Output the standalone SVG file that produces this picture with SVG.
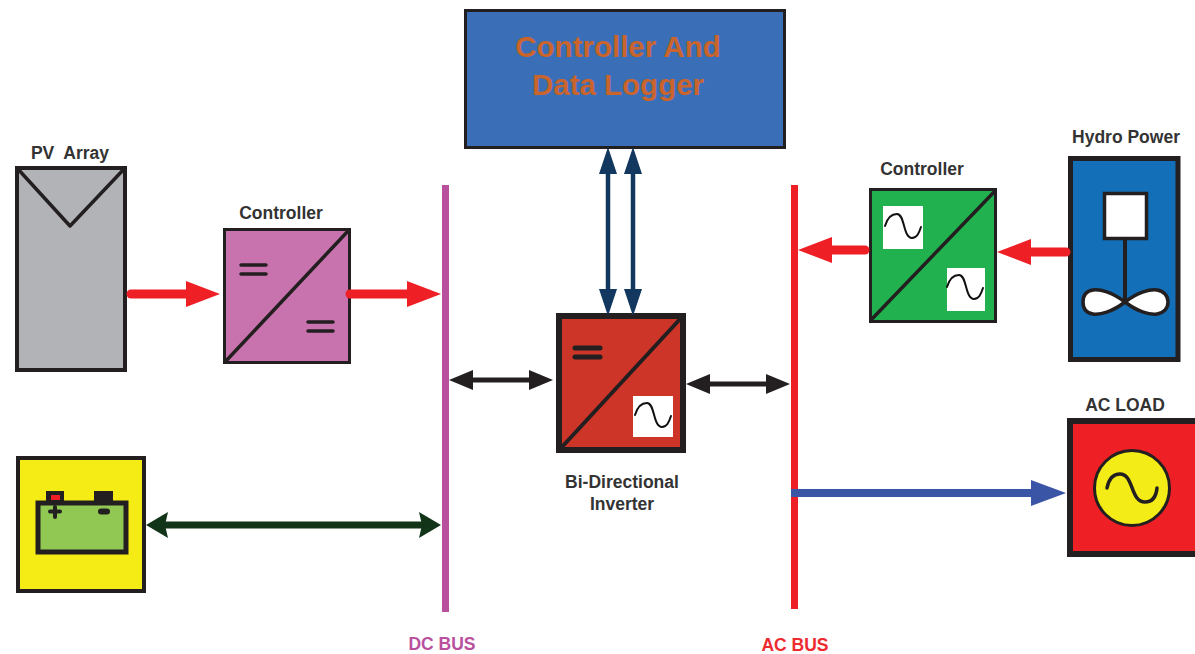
<svg xmlns="http://www.w3.org/2000/svg" width="1195" height="654" viewBox="0 0 1195 654">
<style>
text{font-family:"Liberation Sans",Arial,sans-serif;font-weight:700;text-anchor:middle;fill:#333;font-size:17.5px}
.box{stroke:#231f20;stroke-linejoin:miter}
.ln{fill:none;stroke:#231f20;stroke-linecap:round;stroke-linejoin:round}
.wave{fill:none;stroke:#111;stroke-width:2;stroke-linecap:round}
.wh{fill:#fff}
.big{font-size:29.5px;fill:#c8642c}
.red{stroke:#ee1f25;stroke-width:9;stroke-linecap:round}
.navy{stroke:#12385f;stroke-width:4.5}
.blk{stroke:#231f20;stroke-width:5}
</style>
<defs>
<marker id="r" markerUnits="userSpaceOnUse" markerWidth="35" markerHeight="26" refX="0" refY="13" orient="auto-start-reverse"><path d="M0 0L34 13L0 26Z" fill="#ee1f25"/></marker>
<marker id="n" markerUnits="userSpaceOnUse" markerWidth="28" markerHeight="18" refX="0" refY="9" orient="auto-start-reverse"><path d="M0 0L27 9L0 18Z" fill="#12385f"/></marker>
<marker id="k" markerUnits="userSpaceOnUse" markerWidth="25" markerHeight="20" refX="0" refY="10" orient="auto-start-reverse"><path d="M0 0L24 10L0 20Z" fill="#231f20"/></marker>
<marker id="g" markerUnits="userSpaceOnUse" markerWidth="23" markerHeight="26" refX="3" refY="13" orient="auto-start-reverse"><path d="M0 0L22 13L0 26L3 13Z" fill="#12351a"/></marker>
<marker id="b" markerUnits="userSpaceOnUse" markerWidth="36" markerHeight="26" refX="0" refY="13" orient="auto-start-reverse"><path d="M0 0L35 13L0 26Z" fill="#3a55a5"/></marker>
<path id="sine" d="M0 0C2 -7 6 -12 12 -12C20 -12 18 12 27 12C32 12 34 7 36 1"/>
</defs>

<g id="dc-bus"><rect x="442" y="185" width="7" height="427" fill="#b9509e"/><text x="442" y="650" style="fill:#b9509e">DC BUS</text></g>
<g id="ac-bus"><rect x="791" y="185" width="7" height="424" fill="#ee1f25"/><text x="795" y="651" style="fill:#ee2a30">AC BUS</text></g>

<g id="data-logger">
<rect class="box" x="465.500" y="10.500" width="319" height="137" fill="#3a6fb8" stroke-width="3"/>
<text class="big" x="618" y="57">Controller And</text>
<text class="big" x="618" y="95">Data Logger</text>
</g>

<g id="pv-array">
<rect class="box" x="17" y="168" width="108" height="202" fill="#b1b3b6" stroke-width="4"/>
<path class="ln" stroke-width="3.500" d="M17 168L70 226L125 168"/>
<text x="70" y="159" xml:space="preserve">PV  Array</text>
</g>

<g id="dc-controller">
<rect class="box" x="224.500" y="229.500" width="125" height="133" fill="#c873ad" stroke-width="3"/>
<path class="ln" stroke-width="3.500" d="M225 362L349 230"/>
<path class="ln" stroke-width="3.500" d="M241 265H266M241 274H266M308 322H333M308 331H333"/>
<text x="281" y="219">Controller</text>
</g>

<g id="battery">
<rect class="box" x="18" y="458" width="126" height="133" fill="#f4ec14" stroke-width="4"/>
<rect x="46" y="491" width="18" height="12" fill="#231f20"/><rect x="51" y="495" width="9" height="5" fill="#ee1f25"/>
<rect x="94" y="491" width="19" height="12" fill="#231f20"/>
<rect class="box" x="38" y="503" width="88" height="49" fill="#90c853" stroke-width="5"/>
<path class="ln" stroke-width="4" d="M50 511.500H60M55 507V517"/>
<path class="ln" stroke-width="6" d="M101 511.500H107"/>
</g>

<g id="inverter">
<rect class="box" x="559" y="316" width="124" height="134" fill="#cc3527" stroke-width="6"/>
<path class="ln" stroke-width="4" d="M561 448L681 318"/>
<path class="ln" stroke-width="5" d="M575 348H600M575 357H600"/>
<rect class="wh" x="633" y="396" width="40" height="41"/>
<use href="#sine" class="wave" x="635" y="415"/>
<text x="622" y="488">Bi-Directional</text>
<text x="622" y="510">Inverter</text>
</g>

<g id="ac-controller">
<rect class="box" x="870.500" y="189.500" width="125" height="132" fill="#21b14f" stroke-width="3"/>
<path class="ln" stroke-width="3.500" d="M871 320L995 191"/>
<rect class="wh" x="883" y="206" width="40" height="43"/>
<rect class="wh" x="947" y="268" width="38" height="43"/>
<use href="#sine" class="wave" x="885" y="226"/>
<use href="#sine" class="wave" x="947" y="287"/>
<text x="922" y="175">Controller</text>
</g>

<g id="hydro-power">
<rect class="box" x="1070.500" y="158.500" width="107.500" height="201" fill="#136fb8" stroke-width="5"/>
<rect class="box" x="1104.500" y="193.500" width="42" height="45" fill="#fff" stroke-width="3.500"/>
<path class="ln" stroke-width="4" d="M1125 240V302"/>
<path class="ln" stroke-width="3.500" style="fill:#fff" d="M1125 302C1112 292 1100 289 1093 290C1086 291 1083 296 1083 302C1083 308 1086 313 1093 314C1100 315 1112 312 1125 302C1138 292 1150 289 1157 290C1164 291 1168 296 1168 302C1168 308 1164 313 1157 314C1150 315 1138 312 1125 302Z"/>
<text x="1126" y="143">Hydro Power</text>
</g>

<g id="ac-load">
<rect class="box" x="1070" y="421" width="128" height="133" fill="#ee1f25" stroke-width="6"/>
<circle cx="1132" cy="488" r="37.500" fill="#f3ec16" stroke="#231f20" stroke-width="3"/>
<path class="ln" stroke-width="3.500" d="M1107 488C1109 478 1114 474 1120 474C1134 474 1130 502 1145 502C1151 502 1156 498 1157 488"/>
<text x="1125" y="411">AC LOAD</text>
</g>

<g id="connectors" fill="none">
<line class="red" x1="131" y1="294" x2="186" y2="294" marker-end="url(#r)"/>
<line class="red" x1="350" y1="294" x2="407" y2="294" marker-end="url(#r)"/>
<line class="red" x1="865" y1="250" x2="832" y2="250" marker-end="url(#r)"/>
<line class="red" x1="1066" y1="252" x2="1031" y2="252" marker-end="url(#r)"/>
<line class="navy" x1="608" y1="174" x2="608" y2="289" marker-start="url(#n)" marker-end="url(#n)"/>
<line class="navy" x1="633" y1="174" x2="633" y2="289" marker-start="url(#n)" marker-end="url(#n)"/>
<line class="blk" x1="473" y1="380" x2="529" y2="380" marker-start="url(#k)" marker-end="url(#k)"/>
<line class="blk" x1="710" y1="384" x2="766" y2="384" marker-start="url(#k)" marker-end="url(#k)"/>
<line x1="165" y1="525" x2="422" y2="525" stroke="#12351a" stroke-width="7" marker-start="url(#g)" marker-end="url(#g)"/>
<line x1="791" y1="493" x2="1031" y2="493" stroke="#3a55a5" stroke-width="8" marker-end="url(#b)"/>
</g>
</svg>
